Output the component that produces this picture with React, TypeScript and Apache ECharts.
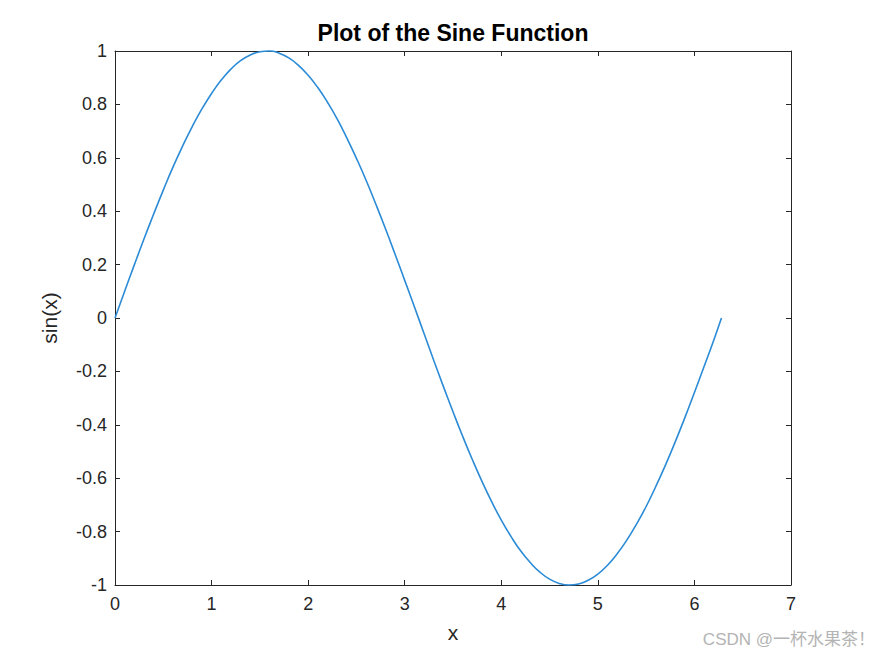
import React, { useEffect, useRef } from "react";
import * as echarts from "echarts";

const titleText = "Plot of the Sine Function";
const xName = "x";
const yName = "sin(x)";
const watermark = "CSDN @一杯水果茶！";

const xValues = [
  0, 0.1, 0.2, 0.3, 0.4, 0.5, 0.6, 0.7, 0.8, 0.9, 1.0, 1.1, 1.2, 1.3, 1.4, 1.5,
  1.6, 1.7, 1.8, 1.9, 2.0, 2.1, 2.2, 2.3, 2.4, 2.5, 2.6, 2.7, 2.8, 2.9, 3.0,
  3.1, 3.2, 3.3, 3.4, 3.5, 3.6, 3.7, 3.8, 3.9, 4.0, 4.1, 4.2, 4.3, 4.4, 4.5,
  4.6, 4.7, 4.8, 4.9, 5.0, 5.1, 5.2, 5.3, 5.4, 5.5, 5.6, 5.7, 5.8, 5.9, 6.0,
  6.1, 6.2, 6.28,
];
const yValues = [
  0, 0.1, 0.199, 0.296, 0.389, 0.479, 0.565, 0.644, 0.717, 0.783, 0.841, 0.891,
  0.932, 0.964, 0.985, 0.997, 1.0, 0.992, 0.974, 0.946, 0.909, 0.863, 0.808,
  0.746, 0.675, 0.598, 0.516, 0.427, 0.335, 0.239, 0.141, 0.042, -0.058,
  -0.158, -0.256, -0.351, -0.443, -0.53, -0.612, -0.688, -0.757, -0.818,
  -0.872, -0.916, -0.952, -0.978, -0.994, -1.0, -0.996, -0.982, -0.959,
  -0.926, -0.883, -0.832, -0.772, -0.706, -0.631, -0.551, -0.465, -0.374,
  -0.279, -0.182, -0.083, 0.0,
];

const xMin = 0;
const xMax = 7;
const xStep = 1;
const yMin = -1;
const yMax = 1;
const yStep = 0.2;

const FONT = "'Liberation Sans', Arial, sans-serif";
const AXIS_COLOR = "#262626";

export default function App() {
  const ref = useRef<HTMLDivElement>(null);
  useEffect(() => {
    if (!ref.current) return;
    const chart = echarts.init(ref.current, null, { renderer: "svg" });
    const data = xValues.map((x, i) => [x, yValues[i]]);
    const axisLine = { show: true, onZero: false, lineStyle: { color: AXIS_COLOR, width: 1 } };
    const axisTick = { show: true, inside: true, length: 5, lineStyle: { color: AXIS_COLOR } };
    const axisLabel = {
      color: AXIS_COLOR,
      fontSize: 18,
      fontFamily: FONT,
    };
    chart.setOption({
      animation: false,
      backgroundColor: "#ffffff",
      graphic: [
        {
          type: "text",
          x: 453,
          y: 33,
          style: {
            text: titleText,
            x: 0,
            y: 0,
            align: "center",
            verticalAlign: "middle",
            fill: "#000",
            fontSize: 23,
            fontWeight: "bold",
            fontFamily: FONT,
          },
        },
        {
          type: "text",
          right: 0,
          top: 631,
          style: {
            text: watermark,
            fill: "#b4b4b4",
            fontSize: 17,
            fontFamily: "'Liberation Sans', 'Noto Sans CJK SC', sans-serif",
          },
        },
      ],
      grid: { left: 115, right: 84, top: 51, bottom: 72, containLabel: false },
      xAxis: [
        {
          type: "value",
          min: xMin,
          max: xMax,
          interval: xStep,
          position: "bottom",
          name: xName,
          nameLocation: "middle",
          nameGap: 37,
          nameTextStyle: { fontFamily: FONT, fontSize: 21, color: AXIS_COLOR },
          axisLine,
          axisTick,
          axisLabel: { ...axisLabel, margin: 10 },
          splitLine: { show: false },
        },
        {
          type: "value",
          min: xMin,
          max: xMax,
          interval: xStep,
          position: "top",
          axisLine,
          axisTick,
          axisLabel: { show: false },
          splitLine: { show: false },
        },
      ],
      yAxis: [
        {
          type: "value",
          min: yMin,
          max: yMax,
          interval: yStep,
          position: "left",
          name: yName,
          nameLocation: "middle",
          nameGap: 55,
          nameTextStyle: { fontFamily: FONT, fontSize: 21, color: AXIS_COLOR },
          axisLine,
          axisTick,
          axisLabel: {
            ...axisLabel,
            margin: 8,
            formatter: (v: number) => String(Math.round(v * 10) / 10),
          },
          splitLine: { show: false },
        },
        {
          type: "value",
          min: yMin,
          max: yMax,
          interval: yStep,
          position: "right",
          axisLine,
          axisTick,
          axisLabel: { show: false },
          splitLine: { show: false },
        },
      ],
      series: [
        {
          type: "line",
          data,
          smooth: true,
          showSymbol: false,
          symbol: "none",
          lineStyle: { color: "#2b8bd6", width: 1.6 },
          clip: false,
        },
      ],
    });
    return () => chart.dispose();
  }, []);
  return (
    <div
      ref={ref}
      style={{ position: "absolute", left: 0, top: 0, width: 875, height: 657 }}
    />
  );
}
